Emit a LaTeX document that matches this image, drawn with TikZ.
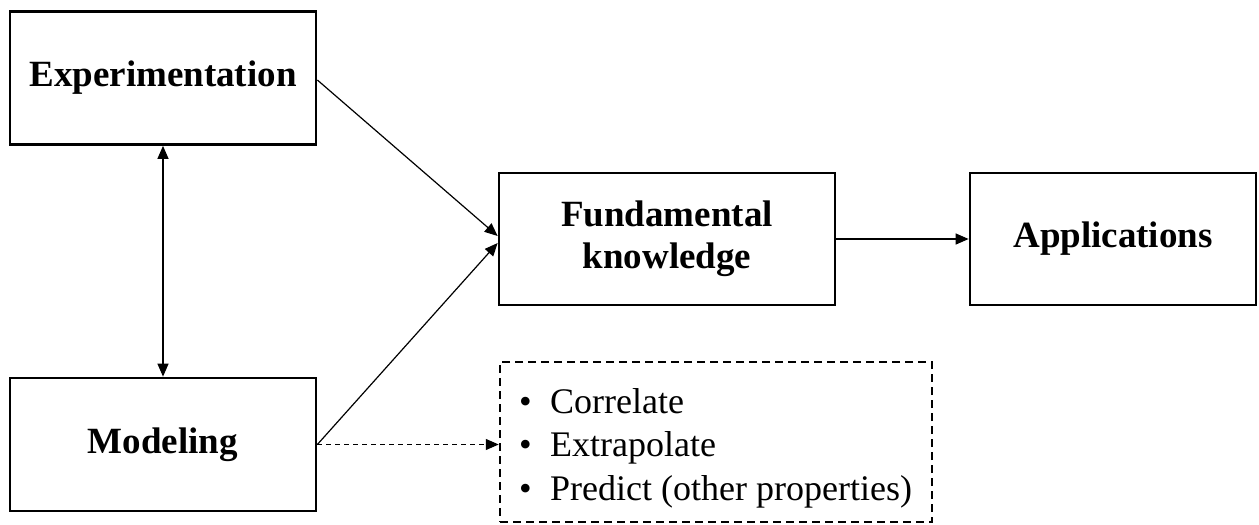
\documentclass[tikz,border=0pt]{standalone}
\usepackage{fontspec}
\setmainfont{Liberation Serif}
\usetikzlibrary{arrows.meta,calc}
\begin{document}
\begin{tikzpicture}[x=1pt,y=-1pt,
  box/.style={draw,line width=2.7pt,minimum width=#1,minimum height=133pt,inner sep=0pt,align=center,
    font=\fontsize{37}{42}\selectfont\bfseries},
  tip/.style={},
  conn/.style={line width=1.2pt,-{Triangle[length=13pt,width=11pt]}},
  dconn/.style={conn,dash pattern=on 5pt off 4pt},
  listbox/.style={draw,line width=2.5pt,dash pattern=on 8pt off 5pt,minimum width=432pt,minimum height=160pt,inner sep=0pt},
  listtext/.style={inner sep=0pt,align=left,font=\fontsize{36}{43.5}\selectfont}]
\useasboundingbox (0,0) rectangle (1259,525);
\node[box=306pt] (exp) at (163,78) {Experimentation};
\node[box=306pt] (mod) at (163,444.5) {Modeling};
\node[box=336pt,minimum height=132pt] (fk) at (667,239) {Fundamental\\knowledge};
\node[box=286pt,minimum height=132pt] (app) at (1113,239) {Applications};
\node[listbox] (lst) at (716,442) {};
\node[listtext,anchor=west] (lstt) at (519,448) {\makebox[31pt][l]{•}Correlate\\\makebox[31pt][l]{•}Extrapolate\\\makebox[31pt][l]{•}Predict (other properties)};
\draw[conn,{Triangle[length=13pt,width=11pt]}-{Triangle[length=13pt,width=11pt]}] (exp.south) -- (mod.north);
\draw[conn] ($(exp.east)+(0,2)$) -- ($(fk.west)+(0,-3)$);
\draw[conn] (mod.east) -- ($(fk.west)+(0,4)$);
\draw[dconn] (mod.east) -- (lst.west |- mod.east);
\draw[conn] (fk.east) -- (app.west);
\end{tikzpicture}
\end{document}
